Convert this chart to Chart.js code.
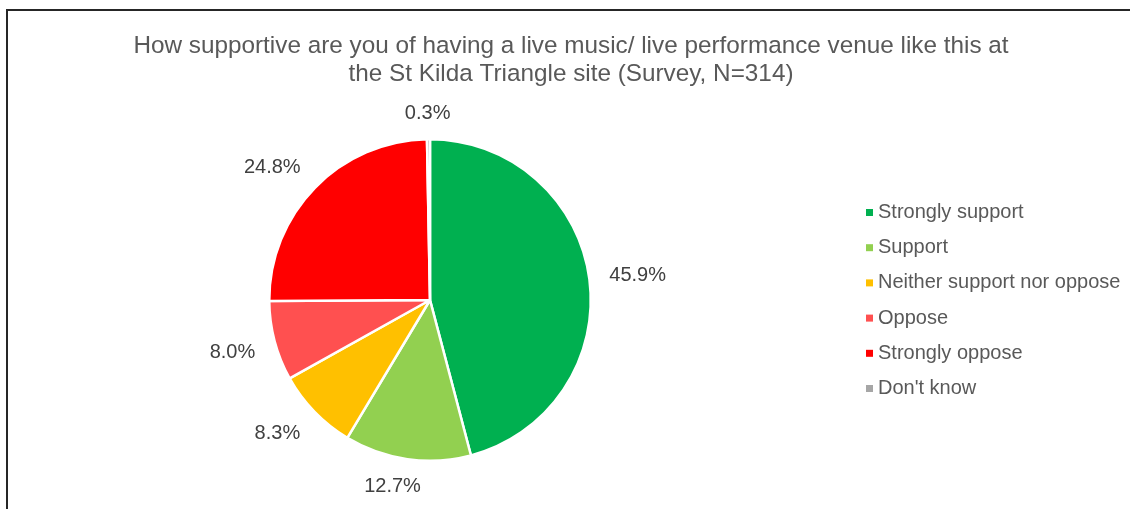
<!DOCTYPE html>
<html>
<head>
<meta charset="utf-8">
<script src="https://cdn.jsdelivr.net/npm/chart.js@4"></script>
<style>
  html, body { margin: 0; padding: 0; background: #fff; overflow: hidden; }
  #frame { position: absolute; left: 6px; top: 9px; width: 1200px; height: 600px; border: 2px solid #262626; }
  #wrap { position: absolute; left: 0; top: 0; width: 1130px; height: 509px; }
</style>
</head>
<body>
<div id="frame"></div>
<div id="wrap"><canvas id="pie"></canvas></div>
<script>
// --- DATI ---
const categories = ["Strongly support", "Support", "Neither support nor oppose", "Oppose", "Strongly oppose", "Don't know"];
const values = [45.9, 12.7, 8.3, 8.0, 24.8, 0.3];
const colors = ["#00B050", "#92D050", "#FFC000", "#FF5050", "#FF0000", "#A6A6A6"];
const titleLines = [
  "How supportive are you of having a live music/ live performance venue like this at",
  "the St Kilda Triangle site (Survey, N=314)"
];

const FONT = "Arial, 'Liberation Sans', sans-serif";
const clamp = (v) => Math.max(-1, Math.min(1, v));

// titolo, etichette esterne e legenda disegnati a mano
const decorations = {
  id: "decorations",
  afterDraw(chart) {
    const ctx = chart.ctx;
    ctx.save();

    // titolo
    ctx.fillStyle = "#595959";
    ctx.font = "24.3px " + FONT;
    ctx.textAlign = "center";
    ctx.textBaseline = "alphabetic";
    titleLines.forEach((line, i) => ctx.fillText(line, 571, 53 + i * 28));

    // etichette percentuali: il bordo del testo tocca un punto appena fuori dalla fetta
    ctx.font = "20px " + FONT;
    ctx.fillStyle = "#404040";
    ctx.textBaseline = "middle";
    const meta = chart.getDatasetMeta(0);
    meta.data.forEach((arc, i) => {
      const mid = (arc.startAngle + arc.endAngle) / 2;
      const txt = values[i].toFixed(1) + "%";
      const w = ctx.measureText(txt).width;
      const h = 14;
      const r = arc.outerRadius + 20;
      const ax = arc.x + Math.cos(mid) * r;
      const ay = arc.y + Math.sin(mid) * r;
      const cx = ax + (w / 2) * clamp(Math.cos(mid) * 3);
      const cy = ay + (h / 2) * clamp(Math.sin(mid) * 3) + 1;
      ctx.fillText(txt, cx, cy);
    });

    // legenda
    ctx.textAlign = "left";
    categories.forEach((name, i) => {
      const y = 212.5 + i * 35.2;
      ctx.fillStyle = colors[i];
      ctx.fillRect(866, y - 3.5, 7, 7);
      ctx.fillStyle = "#595959";
      ctx.fillText(name, 878, y);
    });
    ctx.restore();
  }
};

new Chart(document.getElementById("pie"), {
  type: "pie",
  data: {
    labels: categories,
    datasets: [{
      data: values,
      backgroundColor: colors,
      borderColor: "#ffffff",
      borderWidth: 2.5
    }]
  },
  options: {
    responsive: true,
    maintainAspectRatio: false,
    animation: false,
    layout: { padding: { left: 268, right: 538, top: 138, bottom: 47 } },
    plugins: {
      legend: { display: false },
      title: { display: false },
      tooltip: { enabled: false }
    }
  },
  plugins: [decorations]
});
</script>
</body>
</html>
